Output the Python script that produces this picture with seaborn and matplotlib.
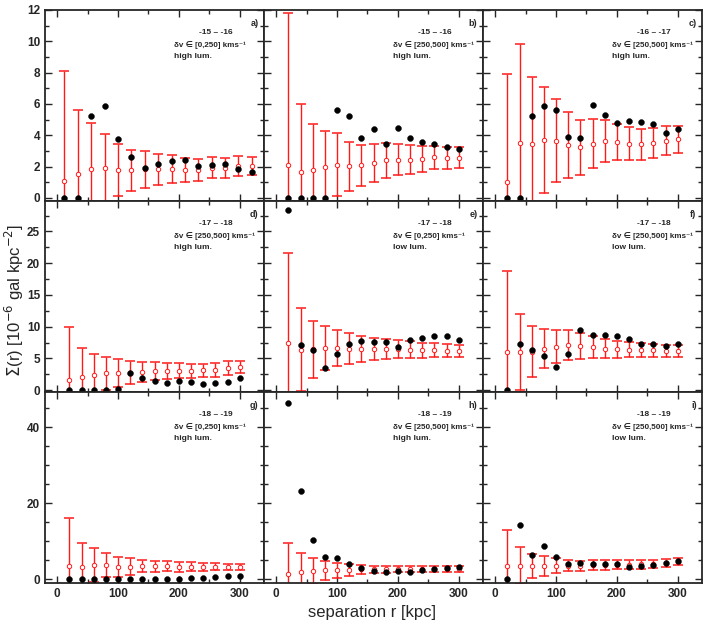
import numpy as np
import pandas as pd
import seaborn as sns
import matplotlib.pyplot as plt
from matplotlib.ticker import MultipleLocator

# separation bins (kpc); panel a is binned slightly differently
r = [20, 40, 60, 80, 100, 120, 140, 160, 180, 200, 220, 240, 260, 280, 300]
r_a = [12, 34, 56, 78, 100, 122, 144, 166, 188, 210, 232, 254, 276, 298, 320]

# red open circles = mean of random samples, err = 1 sigma ; black = observed
mean_a = [1.06, 1.53, 1.83, 1.92, 1.77, 1.75, 1.83, 1.83, 1.85, 1.79, 1.79, 1.92, 1.92, 2.04, 2.04]
err_a = [7.03, 4.07, 2.98, 2.17, 1.68, 1.33, 1.17, 0.99, 0.87, 0.78, 0.72, 0.66, 0.65, 0.63, 0.58]
obs_a = [0, 0, 5.2, 5.84, 3.75, 2.6, 1.9, 2.19, 2.34, 2.4, 2.02, 2.1, 2.15, 1.87, 1.66]

mean_b = [2.13, 1.66, 1.77, 2.0, 2.13, 2.02, 2.07, 2.22, 2.39, 2.45, 2.45, 2.49, 2.58, 2.56, 2.56]
err_b = [9.7, 4.32, 2.98, 2.26, 1.99, 1.55, 1.32, 1.2, 1.1, 0.98, 0.9, 0.82, 0.75, 0.7, 0.67]
obs_b = [0, 0, 0, 0, 5.62, 5.22, 3.83, 4.41, 3.47, 4.49, 3.81, 3.58, 3.41, 3.26, 3.09]

mean_c = [1.02, 3.51, 3.43, 3.68, 3.64, 3.37, 3.22, 3.47, 3.64, 3.6, 3.47, 3.43, 3.51, 3.66, 3.73]
err_c = [6.88, 6.35, 4.3, 3.4, 2.65, 2.1, 1.75, 1.55, 1.36, 1.15, 1.07, 1.0, 0.97, 0.9, 0.86]
obs_c = [0, 0, 5.2, 5.86, 5.62, 3.9, 3.83, 5.96, 5.32, 4.81, 4.88, 4.83, 4.75, 4.15, 4.41]

mean_d = [1.57, 2.09, 2.41, 2.62, 2.67, 2.72, 2.82, 2.98, 3.03, 3.03, 3.03, 3.09, 3.19, 3.5, 3.66]
err_d = [8.3, 4.6, 3.35, 2.6, 2.19, 1.8, 1.6, 1.4, 1.25, 1.2, 1.1, 1.07, 1.05, 1.05, 1.0]
obs_d = [0, 0, 0, 0, 0.1, 2.67, 1.94, 1.46, 1.15, 1.36, 1.2, 0.94, 1.15, 1.31, 1.83]

mean_e = [7.37, 6.38, 6.43, 6.59, 6.59, 6.49, 6.49, 6.49, 6.43, 6.43, 6.38, 6.28, 6.28, 6.22, 6.22]
err_e = [14.3, 6.5, 4.5, 3.5, 2.85, 2.43, 2.0, 1.75, 1.57, 1.4, 1.3, 1.2, 1.1, 1.0, 0.95]
obs_e = [28.35, 7.17, 6.38, 3.56, 5.75, 7.22, 7.69, 7.58, 7.64, 6.8, 7.95, 8.21, 8.47, 8.47, 7.85]

mean_f = [5.96, 5.96, 6.07, 6.54, 6.85, 7.11, 6.96, 6.75, 6.54, 6.43, 6.38, 6.33, 6.28, 6.17, 6.17]
err_f = [12.8, 6.0, 4.0, 3.1, 2.6, 2.3, 2.0, 1.75, 1.55, 1.35, 1.2, 1.1, 1.05, 0.95, 0.95]
obs_f = [0, 7.22, 6.38, 5.39, 3.61, 5.7, 9.52, 8.63, 8.63, 8.47, 8.0, 7.32, 7.32, 6.9, 7.22]

mean_g = [3.54, 3.27, 3.72, 3.72, 3.27, 3.27, 3.45, 3.45, 3.45, 3.27, 3.27, 3.27, 3.27, 3.27, 3.27]
err_g = [12.7, 6.2, 4.42, 3.1, 2.66, 2.2, 1.6, 1.45, 1.3, 1.25, 1.15, 1.05, 0.9, 0.8, 0.8]
obs_g = [0, 0, 0, 0, 0, 0, 0, 0, 0, 0, 0.44, 0.44, 0.62, 0.8, 0.97]

mean_h = [1.5, 1.95, 2.21, 2.3, 2.39, 2.48, 2.57, 2.57, 2.65, 2.7, 2.7, 2.7, 2.7, 2.75, 2.75]
err_h = [8.05, 4.95, 3.36, 2.57, 1.95, 1.6, 1.3, 1.0, 0.9, 0.85, 0.8, 0.8, 0.75, 0.75, 0.75]
obs_h = [46.5, 23.2, 10.35, 5.93, 5.66, 3.98, 2.83, 2.21, 1.86, 2.21, 1.86, 2.3, 2.57, 3.0, 3.1]

mean_i = [3.45, 3.54, 3.54, 3.54, 3.54, 3.54, 3.54, 3.63, 3.7, 3.8, 3.8, 3.9, 4.0, 4.3, 4.6]
err_i = [9.4, 4.86, 3.2, 2.65, 2.0, 1.5, 1.25, 1.3, 1.3, 1.2, 1.2, 1.1, 1.1, 1.0, 0.9]
obs_i = [0, 14.16, 6.28, 8.85, 5.75, 4.07, 4.16, 4.07, 4.07, 3.9, 3.27, 3.54, 3.8, 4.34, 4.69]

tags = ['a)', 'b)', 'c)', 'd)', 'e)', 'f)', 'g)', 'h)', 'i)']
mag_bins = ['-15 – -16', '-15 – -16', '-16 – -17', '-17 – -18', '-17 – -18', '-17 – -18',
            '-18 – -19', '-18 – -19', '-18 – -19']
dv_bins = ['[0,250]', '[250,500]', '[250,500]', '[250,500]', '[0,250]', '[250,500]',
           '[0,250]', '[250,500]', '[250,500]']
lum = ['high lum.', 'high lum.', 'high lum.', 'high lum.', 'low lum.', 'low lum.',
       'high lum.', 'high lum.', 'low lum.']

row_ylim = [(-0.2, 12), (-0.3, 29.8), (-1.0, 49.3)]
row_major = [2, 5, 20]
row_minor = [1, 2.5, 5]

sns.set_style("ticks")
plt.rcParams['font.family'] = ['Liberation Sans', 'DejaVu Sans']

fig, axes = plt.subplots(3, 3, figsize=(7.06, 6.25), dpi=100, sharex=True, sharey='row')
fig.subplots_adjust(left=45/706, right=702/706, top=1-10/625, bottom=1-583/625,
                    wspace=0, hspace=0)

panels = [(r_a, mean_a, err_a, obs_a), (r, mean_b, err_b, obs_b), (r, mean_c, err_c, obs_c),
          (r, mean_d, err_d, obs_d), (r, mean_e, err_e, obs_e), (r, mean_f, err_f, obs_f),
          (r, mean_g, err_g, obs_g), (r, mean_h, err_h, obs_h), (r, mean_i, err_i, obs_i)]

for k, (x, m, e, o) in enumerate(panels):
    ax = axes.flat[k]
    row, col = divmod(k, 3)
    df = pd.DataFrame({'r': x, 'mean': m, 'err': e, 'obs': o})

    ax.errorbar(df['r'], df['mean'], yerr=df['err'], fmt='none', ecolor='#ff1a1a',
                elinewidth=1.0, capsize=3.6, capthick=1.1, zorder=2)
    sns.scatterplot(data=df, x='r', y='mean', ax=ax, marker='o', s=10, color='white',
                    edgecolor='#ff1a1a', linewidth=0.7, zorder=3)
    sns.scatterplot(data=df, x='r', y='obs', ax=ax, marker='o', s=18, color='black',
                    edgecolor='black', linewidth=0.3, zorder=4)

    ax.set_xlim(-20, 340)
    ax.set_ylim(*row_ylim[row])
    ax.xaxis.set_major_locator(MultipleLocator(100))
    ax.xaxis.set_minor_locator(MultipleLocator(50))
    ax.yaxis.set_major_locator(MultipleLocator(row_major[row]))
    ax.yaxis.set_minor_locator(MultipleLocator(row_minor[row]))
    ax.tick_params(which='both', direction='in', top=True, right=True, width=1.0)
    ax.tick_params(which='major', length=5, labelsize=8.5)
    ax.tick_params(which='minor', length=3)
    for lab in ax.get_xticklabels() + ax.get_yticklabels():
        lab.set_fontweight('bold')
    for sp in ax.spines.values():
        sp.set_linewidth(1.3)
    ax.set_xlabel('')
    ax.set_ylabel('')

    ax.text(0.975, 0.93, tags[k], transform=ax.transAxes, ha='right', va='center',
            fontsize=6.5, fontweight='bold')
    ax.text(0.78, 0.88, mag_bins[k], transform=ax.transAxes, ha='center', va='center',
            fontsize=6, fontweight='bold')
    ax.text(0.59, 0.817, 'δv ∈ ' + dv_bins[k] + ' kms⁻¹', transform=ax.transAxes,
            ha='left', va='center', fontsize=5.8, fontweight='bold')
    ax.text(0.59, 0.754, lum[k], transform=ax.transAxes, ha='left', va='center',
            fontsize=6, fontweight='bold')

fig.text(0.02, 0.52, r'$\Sigma$(r) [10$^{-6}$ gal kpc$^{-2}$]', rotation=90,
         ha='center', va='center', fontsize=12)
fig.text(0.527, 0.02, 'separation r [kpc]', ha='center', va='center', fontsize=12)

fig.savefig('out.png', dpi=100)
